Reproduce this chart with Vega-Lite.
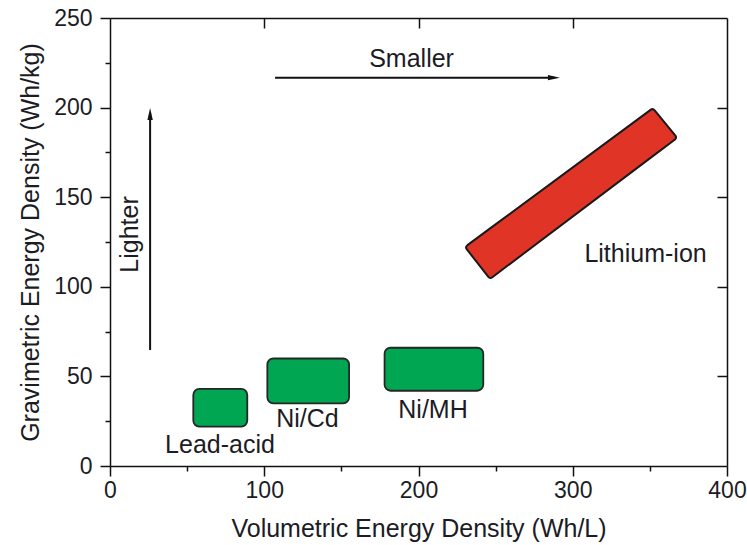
{
  "$schema": "https://vega.github.io/schema/vega-lite/v6.json",
  "width": 617,
  "height": 448,
  "autosize": {"type": "none"},
  "padding": {"left": 110, "top": 18, "right": 20, "bottom": 79},
  "background": "white",
  "config": {"view": {"stroke": null}, "font": "Liberation Sans"},
  "resolve": {"axis": {"x": "independent", "y": "independent"}},
  "datasets": {
    "cells": [
      {"name": "Lead-acid", "x1": 54, "x2": 89, "y1": 22, "y2": 43},
      {"name": "Ni/Cd", "x1": 102, "x2": 155, "y1": 35, "y2": 60},
      {"name": "Ni/MH", "x1": 178, "x2": 242, "y1": 42, "y2": 66}
    ],
    "liion": [
      {"x": 232.9, "top": 121.9, "bottom": 121.9},
      {"x": 246.7, "top": 130.7, "bottom": 106.7},
      {"x": 351.6, "top": 197.4, "bottom": 174.8},
      {"x": 364.9, "top": 183.4, "bottom": 183.4}
    ],
    "arrows": [
      {"name": "Lighter", "x": 26, "y": 64.7, "x2": 26, "y2": 197},
      {"name": "Smaller", "x": 107, "y": 216.7, "x2": 288, "y2": 216.7}
    ],
    "heads": [
      {"dir": "up", "x": 26, "y": 196.4},
      {"dir": "right", "x": 287.8, "y": 216.7}
    ],
    "labels": [
      {"text": "Lead-acid", "x": 71.3, "y": 7.4},
      {"text": "Ni/Cd", "x": 128, "y": 21.9},
      {"text": "Ni/MH", "x": 209.4, "y": 27},
      {"text": "Lithium-ion", "x": 347.2, "y": 113.8},
      {"text": "Smaller", "x": 195.5, "y": 222.7}
    ],
    "vlabels": [
      {"text": "Lighter", "x": 13, "y": 129.2}
    ]
  },
  "layer": [
    {
      "data": {"name": "cells"},
      "mark": {"type": "rect", "cornerRadius": 6, "fill": "#00a651", "stroke": "#262626", "strokeWidth": 1.8},
      "encoding": {
        "x": {
          "field": "x1", "type": "quantitative",
          "scale": {"domain": [0, 400], "nice": false, "zero": false},
          "axis": {
            "orient": "bottom",
            "values": [0, 50, 100, 150, 200, 250, 300, 350, 400],
            "labelExpr": "datum.value % 100 === 0 ? datum.label : ''",
            "tickSize": {"condition": {"test": "datum.value % 100 === 0", "value": 10}, "value": 5},
            "tickColor": "#111", "tickWidth": 1.5,
            "domainColor": "#111", "domainWidth": 1.5,
            "grid": false,
            "labelFont": "Liberation Sans", "labelFontSize": 23, "labelColor": "#1c1c24", "labelPadding": 3,
            "labelFlush": false,
            "title": "Volumetric Energy Density (Wh/L)",
            "titleFont": "Liberation Sans", "titleFontSize": 25, "titleFontWeight": "normal", "titleColor": "#1c1c24", "titlePadding": 14
          }
        },
        "x2": {"field": "x2"},
        "y": {
          "field": "y1", "type": "quantitative",
          "scale": {"domain": [0, 250], "nice": false, "zero": false},
          "axis": {
            "orient": "left",
            "values": [0, 25, 50, 75, 100, 125, 150, 175, 200, 225, 250],
            "labelExpr": "datum.value % 50 === 0 ? datum.label : ''",
            "tickSize": {"condition": {"test": "datum.value % 50 === 0", "value": 10}, "value": 5},
            "tickColor": "#111", "tickWidth": 1.5,
            "domainColor": "#111", "domainWidth": 1.5,
            "grid": false,
            "labelFont": "Liberation Sans", "labelFontSize": 23, "labelColor": "#1c1c24", "labelPadding": 8,
            "labelFlush": false,
            "title": "Gravimetric Energy Density (Wh/kg)",
            "titleFont": "Liberation Sans", "titleFontSize": 25, "titleFontWeight": "normal", "titleColor": "#1c1c24", "titlePadding": 10
          }
        },
        "y2": {"field": "y2"}
      }
    },
    {
      "data": {"name": "liion"},
      "mark": {"type": "area", "orient": "vertical", "fill": "#1a1a1a", "stroke": "#1a1a1a", "strokeWidth": 8, "strokeJoin": "round", "opacity": 1},
      "encoding": {
        "x": {
          "field": "x", "type": "quantitative",
          "axis": {
            "orient": "top", "values": [100, 200, 300], "labels": false, "tickSize": -10,
            "tickColor": "#111", "tickWidth": 1.5, "domainColor": "#111", "domainWidth": 1.5,
            "grid": false, "title": null
          }
        },
        "y": {
          "field": "top", "type": "quantitative",
          "axis": {
            "orient": "right", "values": [50, 100, 150, 200], "labels": false, "tickSize": -10,
            "tickColor": "#111", "tickWidth": 1.5, "domainColor": "#111", "domainWidth": 1.5,
            "grid": false, "title": null
          }
        },
        "y2": {"field": "bottom"}
      }
    },
    {
      "data": {"name": "liion"},
      "mark": {"type": "area", "orient": "vertical", "fill": "#e03426", "stroke": "#e03426", "strokeWidth": 4, "strokeJoin": "round", "opacity": 1},
      "encoding": {
        "x": {"field": "x", "type": "quantitative", "axis": null},
        "y": {"field": "top", "type": "quantitative", "axis": null},
        "y2": {"field": "bottom"}
      }
    },
    {
      "data": {"name": "arrows"},
      "mark": {"type": "rule", "color": "#111", "strokeWidth": 2},
      "encoding": {
        "x": {"field": "x", "type": "quantitative", "axis": null},
        "x2": {"field": "x2"},
        "y": {"field": "y", "type": "quantitative", "axis": null},
        "y2": {"field": "y2"}
      }
    },
    {
      "data": {"name": "heads"},
      "mark": {"type": "point", "filled": true, "color": "#111", "opacity": 1, "size": 144},
      "encoding": {
        "x": {"field": "x", "type": "quantitative", "axis": null},
        "y": {"field": "y", "type": "quantitative", "axis": null},
        "shape": {
          "field": "dir", "type": "nominal", "legend": null,
          "scale": {"domain": ["up", "right"], "range": ["M0,-1L-0.45,1L0.45,1Z", "M1,0L-1,-0.45L-1,0.45Z"]}
        }
      }
    },
    {
      "data": {"name": "labels"},
      "mark": {"type": "text", "font": "Liberation Sans", "fontSize": 25, "color": "#1c1c24", "align": "center", "baseline": "alphabetic"},
      "encoding": {
        "x": {"field": "x", "type": "quantitative", "axis": null},
        "y": {"field": "y", "type": "quantitative", "axis": null},
        "text": {"field": "text"}
      }
    },
    {
      "data": {"name": "vlabels"},
      "mark": {"type": "text", "font": "Liberation Sans", "fontSize": 25, "color": "#1c1c24", "align": "center", "baseline": "middle", "angle": 270},
      "encoding": {
        "x": {"field": "x", "type": "quantitative", "axis": null},
        "y": {"field": "y", "type": "quantitative", "axis": null},
        "text": {"field": "text"}
      }
    }
  ]
}
